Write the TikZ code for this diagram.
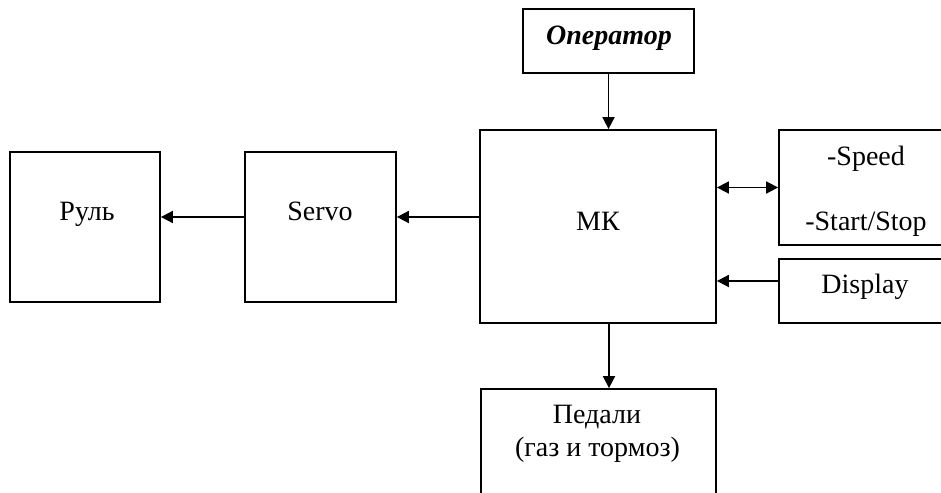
\documentclass[tikz,border=0pt]{standalone}
\usepackage{fontspec}
\setmainfont{Liberation Serif}
\usetikzlibrary{arrows.meta}
\begin{document}
\begin{tikzpicture}[x=1pt,y=-1pt,
  box/.style={draw, line width=1.8pt, rectangle, inner sep=0pt},
  lbl/.style={anchor=base, inner sep=0pt, font=\fontsize{28}{33}\selectfont},
  arr/.style={line width=1.8pt, -{Triangle[length=12pt,width=12pt]}},
  darr/.style={line width=1.8pt, {Triangle[length=12pt,width=12pt]}-{Triangle[length=12pt,width=12pt]}}]
\useasboundingbox (0,0) rectangle (941,492);
\clip (0,0) rectangle (941,492);
% boxes
\node[box, minimum width=171pt, minimum height=64pt]  (op)    at (608.5,41)  {};
\node[box, minimum width=236pt, minimum height=193pt] (mk)    at (598,226.5) {};
\node[box, minimum width=174pt, minimum height=115pt] (spd)   at (866,187.5) {};
\node[box, minimum width=174pt, minimum height=64pt]  (disp)  at (866,291)   {};
\node[box, minimum width=150pt, minimum height=150pt] (rul)   at (85,227)    {};
\node[box, minimum width=151pt, minimum height=150pt] (servo) at (320.5,227) {};
\node[box, minimum width=235pt, minimum height=121pt] (ped)   at (598.5,449.5) {};
% labels
\node[lbl, font=\fontsize{28}{33}\selectfont\bfseries\itshape] (tOp) at (609,45) {Оператор};
\node[lbl] (tMk)  at (598,230.5) {МК};
\node[lbl] (tSp)  at (866,165) {-Speed};
\node[lbl] (tSt)  at (866,230) {-Start/Stop};
\node[lbl] (tDi)  at (865,293) {Display};
\node[lbl] (tRu)  at (87,220.5) {Руль};
\node[lbl] (tSe)  at (320,220.5) {Servo};
\node[lbl] (tPe1) at (597,423) {Педали};
\node[lbl] (tPe2) at (597.5,456) {(газ и тормоз)};
% connectors
\draw[arr] (op.south) -- (op.south |- mk.north);
\draw[arr] (mk.west |- 0,217) -- (servo.east |- 0,217);
\draw[arr] (servo.west |- 0,217) -- (rul.east |- 0,217);
\draw[darr] (mk.east |- spd.west) -- (spd.west);
\draw[arr] (disp.west |- 0,281) -- (mk.east |- 0,281);
\draw[arr] (mk.south -| 609,0) -- (ped.north -| 609,0);
\end{tikzpicture}
\end{document}
